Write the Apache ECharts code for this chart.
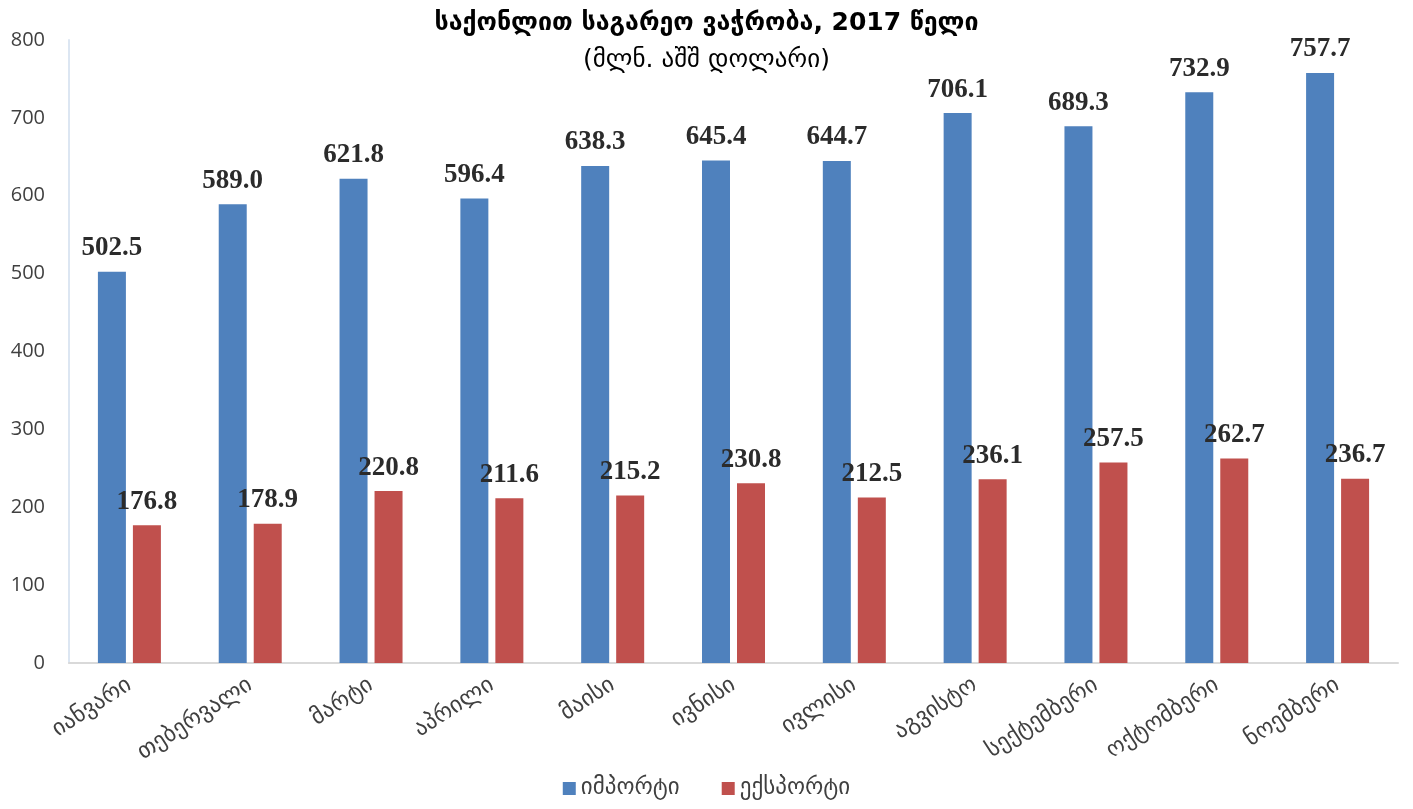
<!DOCTYPE html>
<html><head><meta charset="utf-8">
<script src="https://cdn.jsdelivr.net/npm/echarts@6/dist/echarts.min.js"></script>
<style>html,body{margin:0;padding:0;background:#fff}#c{width:1413px;height:809px}</style>
</head><body><div id="c"></div>
<script>
const categories = ["იანვარი","თებერვალი","მარტი","აპრილი","მაისი","ივნისი","ივლისი","აგვისტო","სექტემბერი","ოქტომბერი","ნოემბერი"];
const importValues = [502.5,589.0,621.8,596.4,638.3,645.4,644.7,706.1,689.3,732.9,757.7];
const exportValues = [176.8,178.9,220.8,211.6,215.2,230.8,212.5,236.1,257.5,262.7,236.7];
const yTicks = [0,100,200,300,400,500,600,700,800];
const seriesNames = ["იმპორტი","ექსპორტი"];
const titleText = "საქონლით საგარეო ვაჭრობა, 2017 წელი";
const subtitleText = "(მლნ. აშშ დოლარი)";

const chart = echarts.init(document.getElementById('c'));
const labelStyle = {show:true, position:'top', distance:10, fontFamily:'Liberation Serif', fontWeight:'bold', fontSize:27, color:'#2b2b2b', formatter:p=>p.value.toFixed(1)};
chart.setOption({
  animation:false,
  title:{text:titleText, subtext:subtitleText, left:'center', top:6, itemGap:12,
    textStyle:{fontFamily:'DejaVu Sans', fontWeight:'bold', fontSize:25, color:'#000'},
    subtextStyle:{fontFamily:'DejaVu Sans', fontSize:25, color:'#000'}},
  legend:{bottom:4, left:'center', itemWidth:13, itemHeight:13, itemGap:42, icon:'rect',
    textStyle:{fontFamily:'DejaVu Sans', fontSize:23, color:'#404040'}, data:seriesNames},
  grid:{left:69, right:15, top:40, bottom:146},
  xAxis:{type:'category', data:categories,
    axisLine:{lineStyle:{color:'#d9d9d9', width:2}}, axisTick:{show:false},
    axisLabel:{rotate:33, margin:20, fontFamily:'DejaVu Sans', fontSize:23, color:'#404040'}},
  yAxis:{type:'value', min:yTicks[0], max:yTicks[yTicks.length-1], interval:100,
    axisLine:{show:true, lineStyle:{color:'#dce6f2', width:2}}, axisTick:{show:false}, splitLine:{show:false},
    axisLabel:{margin:24, fontFamily:'Open Sans', fontSize:20, color:'#404040'}},
  series:[
    {name:seriesNames[0], type:'bar', data:importValues, barWidth:28, barGap:'25%', itemStyle:{color:'#4f81bd'}, label:labelStyle},
    {name:seriesNames[1], type:'bar', data:exportValues, barWidth:28, itemStyle:{color:'#c0504d'}, label:labelStyle}
  ]
});
</script></body></html>
